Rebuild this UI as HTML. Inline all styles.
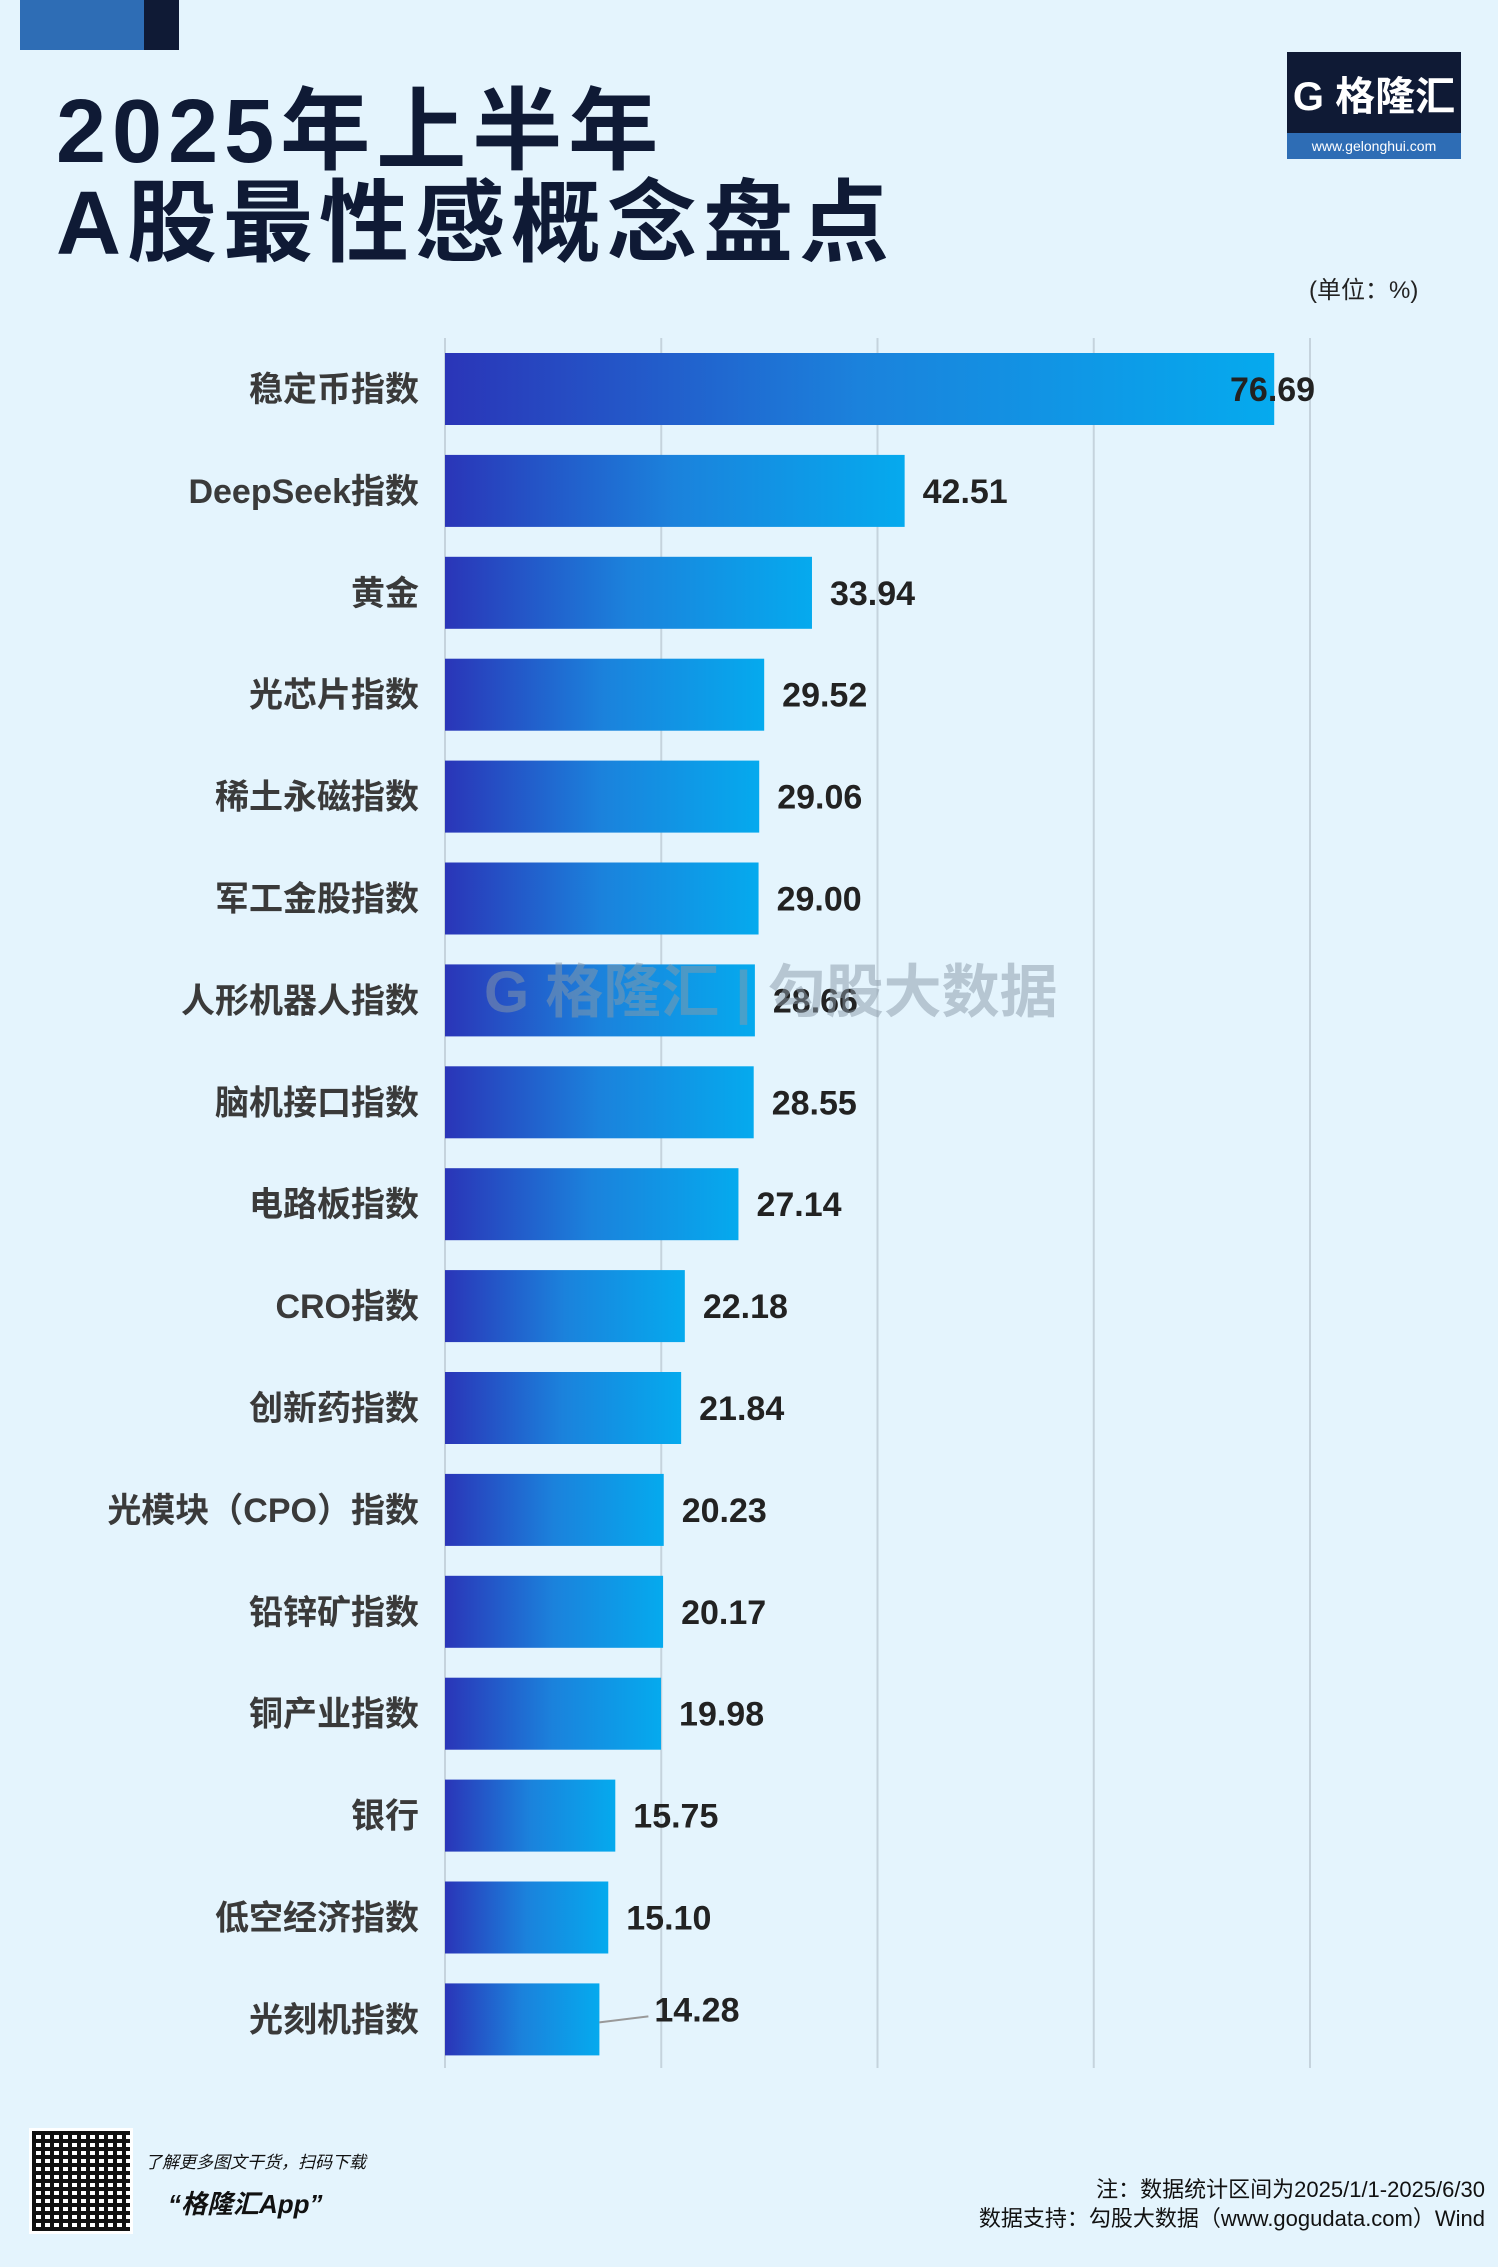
<!DOCTYPE html>
<html><head><meta charset="utf-8">
<style>
html,body{margin:0;padding:0;}
body{width:1498px;height:2267px;background:#e4f4fd;position:relative;overflow:hidden;font-family:"Liberation Sans","Noto Sans CJK SC",sans-serif;}
.abs{position:absolute;}
</style></head>
<body>
<div class="abs" style="left:20px;top:0;width:124px;height:50px;background:#2e6db5"></div>
<div class="abs" style="left:144px;top:0;width:35px;height:50px;background:#0f1a35"></div>
<div class="abs" style="left:56px;top:86px;font-size:90px;font-weight:bold;color:#0f1a35;line-height:92px;letter-spacing:6px;font-family:'Liberation Sans','Noto Sans CJK SC',sans-serif;">2025年上半年<br>A股最性感概念盘点</div>
<div class="abs" style="left:1287px;top:52px;width:174px;height:107px;background:#0f1a35">
  <div style="position:absolute;left:0;top:12px;width:174px;text-align:center;color:#fff;font-size:40px;font-weight:bold;">G 格隆汇</div>
  <div style="position:absolute;left:0;bottom:0;width:174px;height:26px;background:#2e6db5;color:#fff;font-size:14px;line-height:26px;text-align:center">www.gelonghui.com</div>
</div>
<div class="abs" style="left:1309px;top:270px;font-size:24px;color:#222">(单位：%)</div>

<svg class="abs" style="left:0;top:0" width="1498" height="2267">
<defs><linearGradient id="g" x1="0" x2="1" y1="0" y2="0"><stop offset="0" stop-color="#2a35b8"/><stop offset="0.5" stop-color="#1b82dc"/><stop offset="1" stop-color="#05aaee"/></linearGradient></defs>
<g id="grid"></g><g id="bars"></g>
<text x="484" y="1012" font-size="58" font-weight="bold" fill="#8a9aa8" opacity="0.5" font-family="Liberation Sans,Noto Sans CJK SC,sans-serif">G 格隆汇 | 勾股大数据</text>
</svg>

<div class="abs" style="left:29px;top:2128px;width:104px;height:106px;background:#fff;border:3px solid #fff;box-sizing:border-box;background-image:repeating-linear-gradient(90deg,#111 0 4px,transparent 4px 9px),repeating-linear-gradient(0deg,#111 0 4px,transparent 4px 8px)"></div>
<div class="abs" style="left:145px;top:2148px;font-size:17px;font-style:italic;color:#111">了解更多图文干货，扫码下载</div>
<div class="abs" style="left:168px;top:2184px;font-size:26px;font-weight:bold;font-style:italic;color:#111">“格隆汇App”</div>
<div class="abs" style="right:13px;top:2172px;font-size:22px;color:#111;text-align:right">注：数据统计区间为2025/1/1-2025/6/30</div>
<div class="abs" style="right:13px;top:2201px;font-size:22px;color:#111;text-align:right">数据支持：勾股大数据（www.gogudata.com）Wind</div>

<script>
const categories=["稳定币指数","DeepSeek指数","黄金","光芯片指数","稀土永磁指数","军工金股指数","人形机器人指数","脑机接口指数","电路板指数","CRO指数","创新药指数","光模块（CPO）指数","铅锌矿指数","铜产业指数","银行","低空经济指数","光刻机指数"];
const values=[76.69,42.51,33.94,29.52,29.06,29.00,28.66,28.55,27.14,22.18,21.84,20.23,20.17,19.98,15.75,15.10,14.28];
const valueLabels=["76.69","42.51","33.94","29.52","29.06","29.00","28.66","28.55","27.14","22.18","21.84","20.23","20.17","19.98","15.75","15.10","14.28"];
const ticks=[0,20,40,60,80];
const NS="http://www.w3.org/2000/svg";
const x0=445,unit=(1310-445)/80,top0=353,step=101.9,bh=72;
const xs=v=>x0+v*unit;
const ys=i=>top0+i*step;
const grid=document.getElementById('grid'),bars=document.getElementById('bars');
ticks.forEach(t=>{
  const l=document.createElementNS(NS,'line');
  
  
  l.setAttribute('x1',xs(t));l.setAttribute('x2',xs(t));l.setAttribute('y1',338);l.setAttribute('y2',2068);
  l.setAttribute('stroke','#c5d3dd');l.setAttribute('stroke-width','2');grid.appendChild(l);
});
values.forEach((v,i)=>{
  const r=document.createElementNS(NS,'rect');
  
  
  r.setAttribute('x',x0);r.setAttribute('y',ys(i));r.setAttribute('width',xs(v)-x0);r.setAttribute('height',bh);
  r.setAttribute('fill','url(#g)');bars.appendChild(r);
  const c=document.createElementNS(NS,'text');
  
  
  c.setAttribute('x',419);c.setAttribute('y',ys(i)+bh/2+12);c.setAttribute('text-anchor','end');
  c.setAttribute('font-size','34');c.setAttribute('fill','#3a3a3a');c.setAttribute('font-weight','bold');
  c.setAttribute('font-family','Liberation Sans,Noto Sans CJK SC,sans-serif');
  c.textContent=categories[i];bars.appendChild(c);
  let tx=Math.min(xs(v)+18,1230);
  if(i===values.length-1){
    tx=xs(v)+55;
    const ll=document.createElementNS(NS,'line');
    
    
    ll.setAttribute('x1',xs(v));ll.setAttribute('y1',ys(i)+bh/2+3);ll.setAttribute('x2',tx-6);ll.setAttribute('y2',ys(i)+bh/2-3);
    ll.setAttribute('stroke','#999');ll.setAttribute('stroke-width','2');bars.appendChild(ll);
  }
  const t=document.createElementNS(NS,'text');
  
  
  t.setAttribute('x',tx);t.setAttribute('y',ys(i)+bh/2+(i===values.length-1?2:12));
  t.setAttribute('font-size','34');t.setAttribute('fill','#222');t.setAttribute('font-weight','bold');
  t.setAttribute('font-family','Liberation Sans,sans-serif');
  t.textContent=valueLabels[i];bars.appendChild(t);
});
</script>
</body></html>
